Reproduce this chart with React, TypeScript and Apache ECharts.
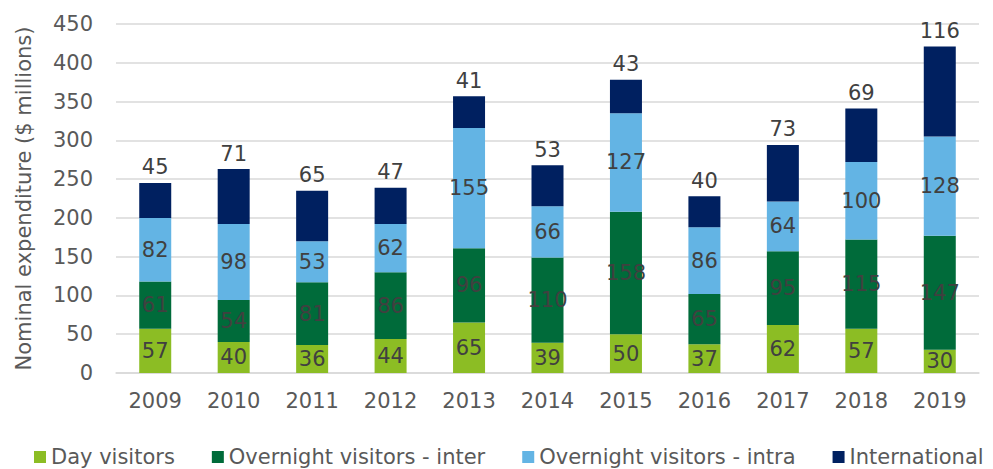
import React, { useEffect, useRef } from "react";
import * as echarts from "echarts";

const years = ["2009", "2010", "2011", "2012", "2013", "2014", "2015", "2016", "2017", "2018", "2019"];
const dayVisitors = [57, 40, 36, 44, 65, 39, 50, 37, 62, 57, 30];
const overnightInter = [61, 54, 81, 86, 96, 110, 158, 65, 95, 115, 147];
const overnightIntra = [82, 98, 53, 62, 155, 66, 127, 86, 64, 100, 128];
const international = [45, 71, 65, 47, 41, 53, 43, 40, 73, 69, 116];

const FONT = "DejaVu Sans, Verdana, sans-serif";
const LABEL = "#404040";
const FS = 21;

export default function App() {
  const ref = useRef<HTMLDivElement>(null);
  useEffect(() => {
    if (!ref.current) return;
    const chart = echarts.init(ref.current, undefined, { renderer: "svg" });
    const inside = {
      show: true,
      position: "inside" as const,
      color: LABEL,
      fontSize: FS,
      fontFamily: FONT,
    };
    const mk = (name: string, data: number[], color: string, top = false) => ({
      name,
      type: "bar" as const,
      stack: "total",
      data,
      barWidth: 32,
      itemStyle: { color },
      label: top
        ? { ...inside, position: "top" as const, distance: 5 }
        : inside,
    });
    chart.setOption({
      animation: false,
      textStyle: { fontFamily: FONT },
      grid: { left: 116, right: 14, top: 24, bottom: 96, containLabel: false },
      legend: {
        left: 29,
        top: 440,
        padding: 5,
        itemWidth: 12,
        itemHeight: 12,
        itemGap: 37,
        icon: "rect",
        textStyle: { fontFamily: FONT, fontSize: FS, color: "#595959", lineHeight: 24 },
        data: ["Day visitors", "Overnight visitors - inter", "Overnight visitors - intra", "International"],
      },
      xAxis: {
        type: "category",
        data: years,
        axisLine: { lineStyle: { color: "#d9d9d9", width: 1.5 } },
        axisTick: { show: false },
        axisLabel: { color: "#595959", fontSize: FS, fontFamily: FONT, margin: 17 },
      },
      yAxis: {
        type: "value",
        min: 0,
        max: 450,
        interval: 50,
        name: "Nominal expenditure ($ millions)",
        nameLocation: "middle",
        nameGap: 82,
        nameTextStyle: { color: "#595959", fontSize: FS, fontFamily: FONT },
        axisLine: { show: false },
        axisTick: { show: false },
        splitLine: { lineStyle: { color: "#d9d9d9", width: 1.5 } },
        axisLabel: { color: "#595959", fontSize: FS, fontFamily: FONT, margin: 23 },
      },
      series: [
        mk("Day visitors", dayVisitors, "#8cbd24"),
        mk("Overnight visitors - inter", overnightInter, "#006b3a"),
        mk("Overnight visitors - intra", overnightIntra, "#63b4e4"),
        mk("International", international, "#002060", true),
      ],
    });
    return () => chart.dispose();
  }, []);
  return <div ref={ref} style={{ width: 993, height: 469, position: "absolute", left: 0, top: 0 }} />;
}
